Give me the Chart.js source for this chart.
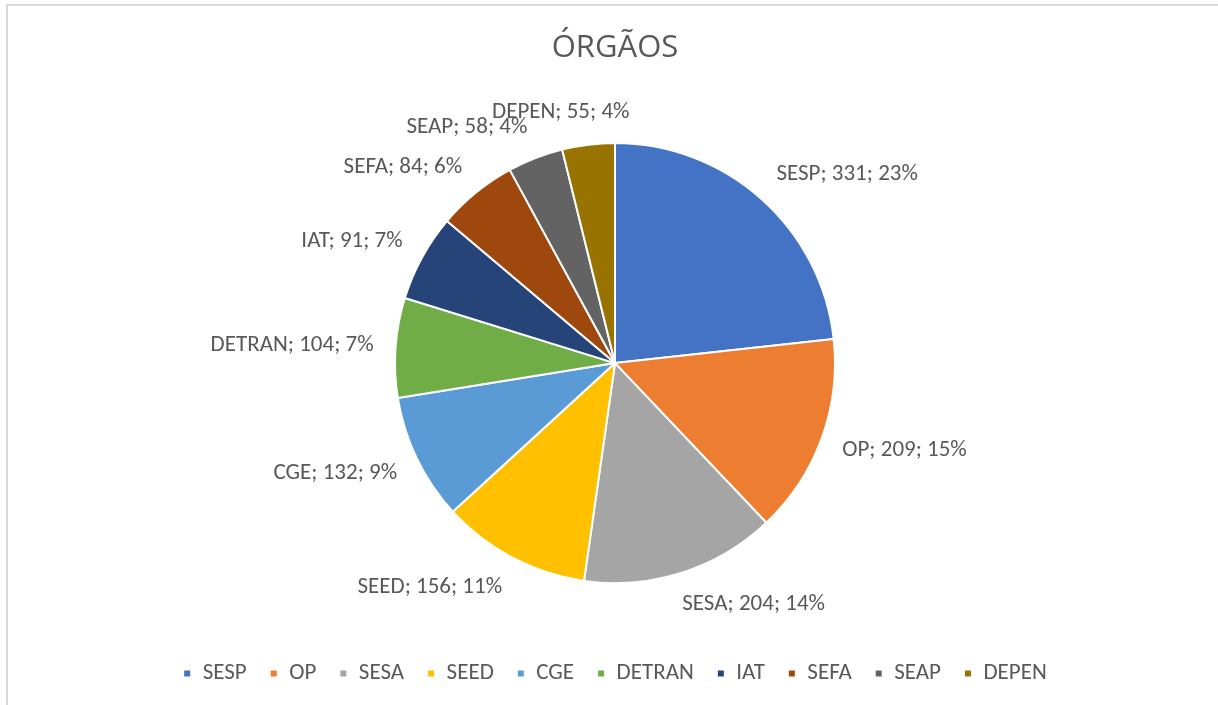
<!DOCTYPE html>
<html>
<head>
<meta charset="utf-8">
<script src="https://cdn.jsdelivr.net/npm/chart.js@4"></script>
<style>
  body { margin: 0; background: #fff; }
  #wrap { position: relative; width: 1218px; height: 705px; overflow: hidden; }
  #frame { position: absolute; left: 6px; top: 4px; width: 1300px; height: 800px; border: 2px solid #d9d9d9; box-sizing: border-box; }
  #orgaos { position: absolute; left: 0; top: 0; }
</style>
</head>
<body>
<div id="wrap">
  <div id="frame"></div>
  <canvas id="orgaos" width="1218" height="705"></canvas>
</div>
<script>
const orgaos = ['SESP', 'OP', 'SESA', 'SEED', 'CGE', 'DETRAN', 'IAT', 'SEFA', 'SEAP', 'DEPEN'];
const quantidades = [331, 209, 204, 156, 132, 104, 91, 84, 58, 55];
const percentuais = [23, 15, 14, 11, 9, 7, 7, 6, 4, 4];
const cores = ['#4472C4', '#ED7D31', '#A5A5A5', '#FFC000', '#5B9BD5', '#70AD47', '#264478', '#9E480E', '#636363', '#997300'];

const fonte = 'Carlito, Calibri, Lato, sans-serif';
const textColor = '#595959';

// rotulos fora das fatias: "NOME; valor; pct%"
const rotulosPlugin = {
  id: 'rotulos',
  afterDatasetsDraw(chart) {
    const ctx = chart.ctx;
    const arcs = chart.getDatasetMeta(0).data;
    ctx.save();
    ctx.font = '23px ' + fonte;
    ctx.fillStyle = textColor;
    ctx.textAlign = 'center';
    ctx.textBaseline = 'middle';
    arcs.forEach((arc, i) => {
      const p = arc.getProps(['x', 'y', 'startAngle', 'endAngle', 'outerRadius'], true);
      const mid = (p.startAngle + p.endAngle) / 2;
      const r = p.outerRadius + 22;
      const px = p.x + Math.cos(mid) * r;
      const py = p.y + Math.sin(mid) * r;
      const txt = orgaos[i] + '; ' + quantidades[i] + '; ' + percentuais[i] + '%';
      const w = ctx.measureText(txt).width;
      const h = 22;
      const s = Math.max(-1, Math.min(1, Math.cos(mid) * 3));
      ctx.fillText(txt, px + s * w / 2, py + Math.sin(mid) * h / 2);
    });
    ctx.restore();
  }
};

new Chart(document.getElementById('orgaos').getContext('2d'), {
  type: 'pie',
  data: {
    labels: orgaos,
    datasets: [{
      data: quantidades,
      backgroundColor: cores,
      borderColor: '#ffffff',
      borderWidth: 2,
      radius: 220
    }]
  },
  options: {
    responsive: false,
    devicePixelRatio: 1,
    animation: false,
    layout: { padding: { left: 12, top: 5, bottom: 10 } },
    plugins: {
      title: {
        display: true,
        text: 'ÓRGÃOS',
        color: textColor,
        font: { family: '"Open Sans", ' + fonte, size: 31, weight: 'normal' },
        padding: { top: 25, bottom: 20 }
      },
      legend: {
        position: 'bottom',
        labels: {
          color: textColor,
          font: { family: fonte, size: 23 },
          boxWidth: 8,
          boxHeight: 8,
          padding: 23
        }
      },
      tooltip: { enabled: false }
    }
  },
  plugins: [rotulosPlugin]
});
</script>
</body>
</html>
